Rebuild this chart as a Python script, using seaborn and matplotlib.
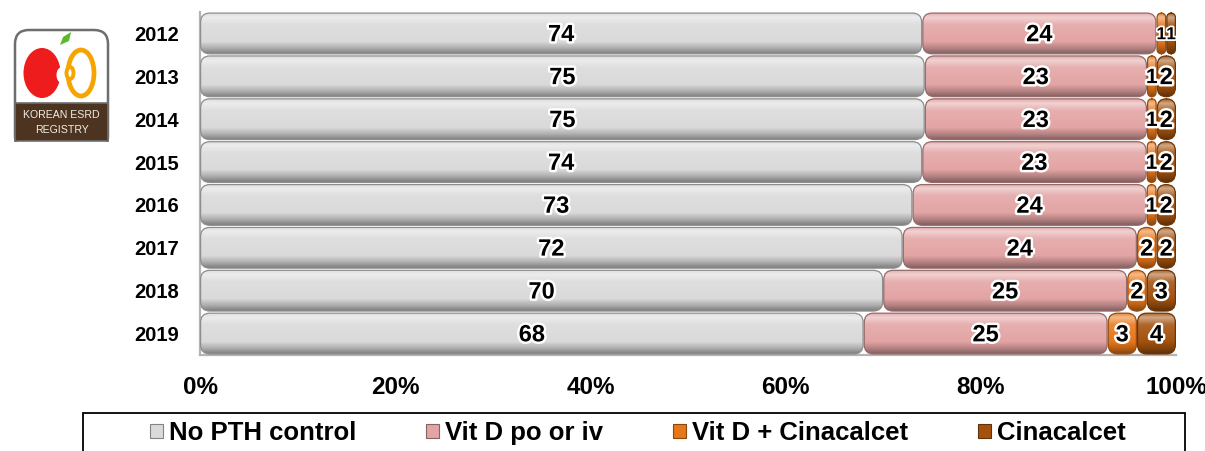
import numpy as np
import pandas as pd
import matplotlib
matplotlib.use("Agg")
import matplotlib.pyplot as plt
import seaborn as sns
from matplotlib.patches import FancyBboxPatch, Rectangle, Ellipse, Polygon
import matplotlib.patheffects as pe
from matplotlib.colors import to_rgb

# Share of patients by PTH control treatment (%)
years = ["2012", "2013", "2014", "2015", "2016", "2017", "2018", "2019"]
no_pth_control = [74, 75, 75, 74, 73, 72, 70, 68]
vit_d = [24, 23, 23, 23, 24, 24, 25, 25]
vit_d_cinacalcet = [1, 1, 1, 1, 1, 2, 2, 3]
cinacalcet = [1, 2, 2, 2, 2, 2, 3, 4]

series_names = ["No PTH control", "Vit D po or iv", "Vit D + Cinacalcet", "Cinacalcet"]
series_colors = ["#dadada", "#e3a4a4", "#e8771a", "#a3520e"]
x_ticks = [0, 20, 40, 60, 80, 100]
x_tick_labels = ["0%", "20%", "40%", "60%", "80%", "100%"]

sns.set_theme(style="white")
plt.rcParams["font.family"] = ["Liberation Sans", "DejaVu Sans"]
plt.rcParams["text.color"] = "black"
plt.rcParams["xtick.color"] = "black"
plt.rcParams["ytick.color"] = "black"

df = pd.DataFrame({"year": years,
                   series_names[0]: no_pth_control,
                   series_names[1]: vit_d,
                   series_names[2]: vit_d_cinacalcet,
                   series_names[3]: cinacalcet})
raw = df[series_names].to_numpy(float)
share = raw / raw.sum(axis=1, keepdims=True) * 100   # 100% stacked
cum = share.cumsum(axis=1)

W, H = 1205, 451
fig = plt.figure(figsize=(W / 100, H / 100), dpi=100)
ax = fig.add_axes([200 / W, 1 - 355 / H, 976 / W, 343 / H])

# cumulative totals, widest first; each bar is later trimmed to its own segment
bar_w = 0.95
for j in reversed(range(4)):
    d = pd.DataFrame({"year": years, "total": cum[:, j]})
    sns.barplot(data=d, x="total", y="year", orient="h", color=series_colors[j],
                width=bar_w, ax=ax, saturation=1)

ax.set_xlim(0, 100)
ax.set_ylim(7.5, -0.5)

# pixel -> data scales for round corners
x_per_px = 100 / 976
y_per_px = 8 / 343
aspect = y_per_px / x_per_px


def shade(c, f):
    c = np.array(to_rgb(c))
    if f >= 0:
        return c + (1 - c) * f
    return c * (1 + f)


patches = list(ax.patches)
n = len(years)
for k in range(4):
    j = 3 - k
    for i in range(n):
        p = patches[k * n + i]
        p.set_visible(False)
        y0 = p.get_y()
        h = p.get_height()
        left = cum[i, j] - share[i, j]
        w = share[i, j]
        r = min(0.95, w / 2 * 0.95, h / aspect / 2 * 0.9)
        col = series_colors[j]
        edge = shade(col, -0.35)
        box = FancyBboxPatch((left + 0.06, y0), w - 0.12, h,
                             boxstyle=f"round,pad=0,rounding_size={r}",
                             mutation_aspect=aspect, facecolor="none",
                             edgecolor=edge, linewidth=0.9, zorder=3)
        ax.add_patch(box)
        # bevel-like vertical gradient
        t = np.linspace(0, 1, 64)
        stops = [(0.0, shade(col, 0.1)), (0.1, shade(col, 0.5)),
                 (0.28, shade(col, 0.12)), (0.7, shade(col, 0.0)),
                 (0.86, shade(col, -0.2)), (1.0, shade(col, -0.42))]
        grad = np.zeros((64, 1, 3))
        for ch in range(3):
            grad[:, 0, ch] = np.interp(t, [s[0] for s in stops], [s[1][ch] for s in stops])
        im = ax.imshow(grad, extent=[left, left + w, y0 + h, y0], origin="upper",
                       aspect="auto", interpolation="bilinear", zorder=2.9)
        im.set_clip_path(box)
        # narrow segments get smaller labels so neighbours do not collide
        if w >= 1.5:
            fs = 17
        else:
            nb = [share[i, jj] for jj in (j - 1, j + 1) if 0 <= jj < 4]
            fs = 12.5 if min(nb) < 1.5 else 15
        ax.text(left + w / 2, i + 0.03, f"{int(raw[i, j])}", ha="center", va="center",
                fontsize=fs, fontweight="bold", color="black", zorder=5,
                path_effects=[pe.withStroke(linewidth=3.5 if fs > 13 else 2.5,
                                            foreground="white")])

ax.set_xlim(0, 100)
ax.set_ylim(7.5, -0.5)
ax.set_xticks(x_ticks)
ax.set_xticklabels(x_tick_labels, fontsize=17.5, fontweight="bold")
ax.tick_params(axis="x", length=0, pad=15)
ax.tick_params(axis="y", length=0, pad=15, labelsize=14.5)
for lab in ax.get_yticklabels():
    lab.set_fontweight("bold")
ax.set_xlabel("")
ax.set_ylabel("")
for s in ["top", "right"]:
    ax.spines[s].set_visible(False)
for s in ["left", "bottom"]:
    ax.spines[s].set_color("#b4b4b4")
    ax.spines[s].set_linewidth(1.6)

# legend
fig.add_artist(Rectangle((83 / W, -0.05), 1102 / W, (451 - 413) / H + 0.05,
                         transform=fig.transFigure, fill=False,
                         edgecolor="black", linewidth=1.3))
handles = [Rectangle((0, 0), 1, 1, facecolor=c, edgecolor=shade(c, -0.4), linewidth=0.8)
           for c in series_colors]
fig.legend(handles, series_names, loc="center", bbox_to_anchor=(638 / W, 1 - 433 / H),
           ncol=4, frameon=False, prop={"size": 18.5, "weight": "bold"},
           handlelength=0.5, handleheight=0.5, handletextpad=0.25,
           columnspacing=2.7, borderpad=0)

# registry badge
lax = fig.add_axes([13 / W, 1 - 143 / H, 97 / W, 115 / H])
lax.set_xlim(0, 97)
lax.set_ylim(115, 0)
lax.axis("off")
lax.add_patch(FancyBboxPatch((2, 2), 93, 120, boxstyle="round,pad=0,rounding_size=14",
                             facecolor="white", edgecolor="#6e6e6e", linewidth=1.8))
band = Rectangle((2, 75), 93, 38, facecolor="#4d3421", edgecolor="#6e6e6e", linewidth=1.2)
lax.add_patch(band)
lax.add_patch(Rectangle((0, 113.8), 97, 2, facecolor="white", edgecolor="none"))
lax.add_patch(Ellipse((29, 45), 37, 50, facecolor="#ee1c1c", edgecolor="none"))
lax.add_patch(Ellipse((48, 47), 9, 15, facecolor="white", edgecolor="none"))
lax.add_patch(Ellipse((68, 45), 26, 46, facecolor="none", edgecolor="#f5a400", linewidth=3.4))
lax.add_patch(Ellipse((56, 46), 8, 12, facecolor="white", edgecolor="none"))
lax.add_patch(Ellipse((57, 45), 7, 12, facecolor="none", edgecolor="#f5a400", linewidth=2.8))
lax.add_patch(Polygon([[47, 17], [50, 9], [58, 4], [56, 13]], closed=True,
                      facecolor="#5cb82c", edgecolor="none"))
lax.text(48.5, 87, "KOREAN ESRD", color="#f2ece4", fontsize=7.6, ha="center", va="center")
lax.text(48.5, 102, "REGISTRY", color="#f2ece4", fontsize=7.6, ha="center", va="center")

fig.savefig("out.png", dpi=100)
